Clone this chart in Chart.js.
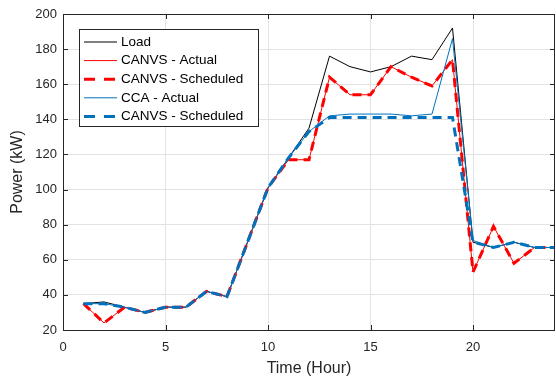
<!DOCTYPE html>
<html>
<head>
<meta charset="utf-8">
<script src="https://cdn.jsdelivr.net/npm/chart.js@4"></script>
<style>
  html, body { margin: 0; padding: 0; background: #fff; }
  #wrap { width: 556px; height: 378px; }
</style>
</head>
<body>
<div id="wrap"><canvas id="chart" width="556" height="378"></canvas></div>
<script>
// valeurs
const hours = [1, 2, 3, 4, 5, 6, 7, 8, 9, 10, 11, 12, 13, 14, 15, 16, 17, 18, 19, 20, 21, 22, 23, 24];
const load = [35, 36, 33, 30, 33, 33, 42, 39, 70, 101, 118, 135, 176, 170, 167, 170, 176, 174, 192, 70, 67, 70, 67, 67];
const canvsActual = [35, 24, 33, 30, 33, 33, 42, 39, 70, 101, 117, 117, 164, 154, 154, 170, 164, 159, 174, 53, 79, 58, 67, 67];
const canvsScheduled = [35, 24, 33, 30, 33, 33, 42, 39, 70, 101, 117, 117, 164, 154, 154, 170, 164, 159, 174, 53, 79, 58, 67, 67];
const ccaActual = [35, 35, 33, 30, 33, 33, 42, 39, 70, 101, 118, 133, 142, 143, 143, 143, 142, 143, 186, 71, 67, 70, 67, 67];
const ccaScheduled = [35, 35, 33, 30, 33, 33, 42, 39, 70, 101, 118, 133, 141, 141, 141, 141, 141, 141, 141, 70, 67, 70, 67, 67];
const xTicks = [0, 5, 10, 15, 20];
const yTicks = [20, 40, 60, 80, 100, 120, 140, 160, 180, 200];

const BLUE = '#0072BD';
const AXIS = '#262626';

function pts(values) {
    return hours.map((h, i) => ({ x: h, y: values[i] }));
}

const series = [
    { label: 'Load', data: load, color: '#000000', width: 1, dash: [], order: 5 },
    { label: 'CANVS - Actual', data: canvsActual, color: '#ff0000', width: 1, dash: [], order: 4 },
    { label: 'CANVS - Scheduled', data: canvsScheduled, color: '#ff0000', width: 3, dash: [9, 6], order: 3 },
    { label: 'CCA - Actual', data: ccaActual, color: BLUE, width: 1, dash: [], order: 2 },
    { label: 'CANVS - Scheduled', data: ccaScheduled, color: BLUE, width: 3, dash: [9, 6], order: 1 }
];

// cadre, graduations intérieures et légende façon MATLAB
const boxPlugin = {
    id: 'boxPlugin',
    afterDraw(chart) {
        const ctx = chart.ctx;
        const a = chart.chartArea;
        const xs = chart.scales.x, ys = chart.scales.y;
        ctx.save();
        ctx.strokeStyle = AXIS;
        ctx.lineWidth = 1;
        ctx.beginPath();
        xTicks.forEach(t => {
            const px = Math.round(xs.getPixelForValue(t)) + 0.5;
            ctx.moveTo(px, a.bottom); ctx.lineTo(px, a.bottom - 5);
            ctx.moveTo(px, a.top); ctx.lineTo(px, a.top + 5);
        });
        yTicks.forEach(t => {
            const py = Math.round(ys.getPixelForValue(t)) + 0.5;
            ctx.moveTo(a.left, py); ctx.lineTo(a.left + 5, py);
            ctx.moveTo(a.right, py); ctx.lineTo(a.right - 5, py);
        });
        ctx.stroke();
        ctx.strokeRect(Math.round(a.left) + 0.5, Math.round(a.top) + 0.5,
            Math.round(a.right - a.left) - 1, Math.round(a.bottom - a.top));

        // légende
        const lx = 79.5, ly = 29.5, lw = 179, lh = 97;
        ctx.fillStyle = '#fff';
        ctx.fillRect(lx, ly, lw, lh);
        ctx.strokeStyle = AXIS;
        ctx.lineWidth = 1;
        ctx.strokeRect(lx, ly, lw, lh);
        ctx.font = '13.5px "Liberation Sans", Arial, sans-serif';
        ctx.textBaseline = 'middle';
        series.forEach((s, i) => {
            const y = 42 + i * 18.6;
            ctx.beginPath();
            ctx.strokeStyle = s.color;
            ctx.lineWidth = s.width;
            ctx.setLineDash(s.dash.length ? [11, 9] : []);
            ctx.moveTo(84, y); ctx.lineTo(117, y);
            ctx.stroke();
            ctx.setLineDash([]);
            ctx.fillStyle = '#000';
            ctx.fillText(s.label, 121, y);
        });
        ctx.restore();
    }
};

new Chart(document.getElementById('chart'), {
    type: 'line',
    data: {
        datasets: series.map(s => ({
            label: s.label,
            data: pts(s.data),
            borderColor: s.color,
            backgroundColor: s.color,
            borderWidth: s.width,
            borderDash: s.dash,
            pointRadius: 0,
            tension: 0,
            fill: false,
            order: s.order
        }))
    },
    options: {
        responsive: false,
        animation: false,
        layout: { padding: { top: 14, right: 1, left: 0, bottom: 0 } },
        plugins: { legend: { display: false }, tooltip: { enabled: false } },
        scales: {
            x: {
                type: 'linear',
                min: 0,
                max: 24,
                afterBuildTicks: scale => { scale.ticks = xTicks.map(v => ({ value: v })); },
                afterFit: scale => { scale.height = 48; },
                grid: { color: '#e3e3e3', drawTicks: false },
                border: { display: false },
                ticks: { color: AXIS, padding: 10, font: { family: 'Liberation Sans', size: 13 } },
                title: {
                    display: true, text: 'Time (Hour)', color: AXIS, padding: { top: 0, bottom: 0 },
                    font: { family: 'Liberation Sans', size: 16 }
                }
            },
            y: {
                min: 20,
                max: 200,
                afterBuildTicks: scale => { scale.ticks = yTicks.map(v => ({ value: v })); },
                afterFit: scale => { scale.width = 63; },
                grid: { color: '#e3e3e3', drawTicks: false },
                border: { display: false },
                ticks: { color: AXIS, padding: 6, font: { family: 'Liberation Sans', size: 13 } },
                title: {
                    display: true, text: 'Power (kW)', color: AXIS, padding: { top: 8, bottom: 0 },
                    font: { family: 'Liberation Sans', size: 16 }
                }
            }
        }
    },
    plugins: [boxPlugin]
});
</script>
</body>
</html>
